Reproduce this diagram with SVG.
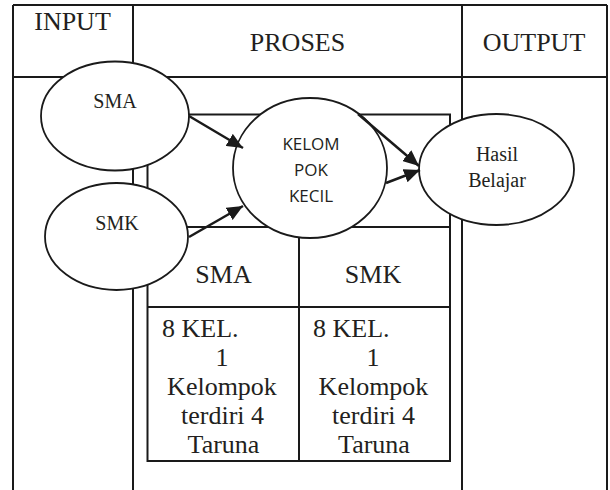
<svg xmlns="http://www.w3.org/2000/svg" width="610" height="490" viewBox="0 0 610 490">
<style>
.ln{stroke:#1a1a1a;stroke-width:2;fill:none}
.el{stroke:#1a1a1a;stroke-width:1.8;fill:#fff}
.t{font-family:"Liberation Serif","Times New Roman",serif;fill:#231f20;text-anchor:middle}
.h{font-size:26px}
.s{font-size:20px}
.c{font-size:26px}
.k{font-family:"Open Sans","Liberation Sans",sans-serif;font-size:17px;fill:#231f20;text-anchor:middle}
.ar{stroke:#1a1a1a;stroke-width:2.5;fill:none}
</style>
<defs>
<marker id="ah" markerUnits="userSpaceOnUse" markerWidth="17" markerHeight="14" refX="16" refY="7" orient="auto">
<path d="M0,0 L16,7 L0,14 z" fill="#1a1a1a"/>
</marker>
</defs>
<rect width="610" height="490" fill="#fff"/>
<g id="table">
<line class="ln" x1="13" y1="5" x2="607" y2="5"/>
<line class="ln" x1="13" y1="77" x2="607" y2="77"/>
<line class="ln" x1="13" y1="5" x2="13" y2="490"/>
<line class="ln" x1="133" y1="5" x2="133" y2="490"/>
<line class="ln" x1="462" y1="5" x2="462" y2="490"/>
<line class="ln" x1="607" y1="5" x2="607" y2="490"/>
<text class="t h" x="72.5" y="30">INPUT</text>
<text class="t h" x="297.5" y="51">PROSES</text>
<text class="t h" x="534" y="51">OUTPUT</text>
</g>
<g id="proses-box">
<rect class="ln" x="147.5" y="114.5" width="302.5" height="346.5"/>
<line class="ln" x1="147.5" y1="227" x2="450" y2="227"/>
<line class="ln" x1="147.5" y1="307" x2="450" y2="307"/>
<line class="ln" x1="299" y1="227" x2="299" y2="461"/>
</g>
<g id="cell-sma">
<text class="t c" x="223.5" y="283">SMA</text>
<text class="t c" x="162" y="337" text-anchor="start" style="text-anchor:start">8 KEL.</text>
<text class="t c" x="222" y="366">1</text>
<text class="t c" x="222" y="395">Kelompok</text>
<text class="t c" x="222.5" y="424">terdiri 4</text>
<text class="t c" x="223.5" y="453">Taruna</text>
</g>
<g id="cell-smk">
<text class="t c" x="373" y="283">SMK</text>
<text class="t c" x="313" y="337" style="text-anchor:start">8 KEL.</text>
<text class="t c" x="373" y="366">1</text>
<text class="t c" x="373.5" y="395">Kelompok</text>
<text class="t c" x="373.5" y="424">terdiri 4</text>
<text class="t c" x="374" y="453">Taruna</text>
</g>
<g id="node-sma">
<ellipse class="el" cx="115" cy="116" rx="74" ry="54.5"/>
<text class="t s" x="115" y="108">SMA</text>
</g>
<g id="node-smk">
<ellipse class="el" cx="116.5" cy="236.5" rx="71.5" ry="53.5"/>
<text class="t s" x="117" y="230">SMK</text>
</g>
<g id="node-kelompok">
<ellipse class="el" cx="310" cy="168" rx="77" ry="70"/>
<text class="k" x="311" y="150">KELOM</text>
<text class="k" x="311" y="176">POK</text>
<text class="k" x="311" y="202">KECIL</text>
</g>
<g id="node-hasil">
<ellipse class="el" cx="496.5" cy="169.5" rx="77.5" ry="55.5"/>
<text class="t s" x="497" y="161">Hasil</text>
<text class="t s" x="497" y="187">Belajar</text>
</g>
<g id="connectors">
<line class="ar" x1="189" y1="116" x2="243" y2="148" marker-end="url(#ah)"/>
<line class="ar" x1="189" y1="237" x2="243" y2="206" marker-end="url(#ah)"/>
<line class="ar" x1="358" y1="114" x2="419" y2="166" marker-end="url(#ah)"/>
<line class="ar" x1="386" y1="183" x2="420" y2="170" marker-end="url(#ah)"/>
</g>
</svg>
